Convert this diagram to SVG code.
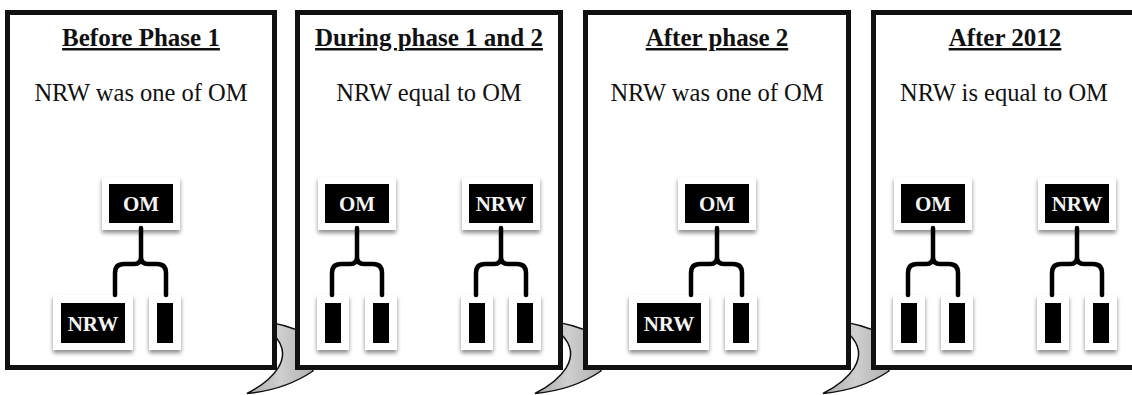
<svg xmlns="http://www.w3.org/2000/svg" width="1132" height="395" viewBox="0 0 1132 395">
<defs>
<filter id="sh" x="-30%" y="-30%" width="160%" height="170%">
<feDropShadow dx="0" dy="3" stdDeviation="2.2" flood-color="#000" flood-opacity="0.45"/>
</filter>
<linearGradient id="gr" x1="0" y1="0" x2="1" y2="0">
<stop offset="0" stop-color="#a9a9a9"/>
<stop offset="0.5" stop-color="#cfcfcf"/>
<stop offset="1" stop-color="#b0b0b0"/>
</linearGradient>
<path id="tail" d="M -35 321 Q -12 323 14 335 L 18 371 Q -10 390 -48 393.5 C -24 381 2 358 -22 334 Z"/>
</defs>
<style>
.panel{fill:#fff;stroke:#111;stroke-width:5}
.tail{fill:url(#gr);stroke:#111;stroke-width:1.5}
.title{font-family:"Liberation Serif","Times New Roman",serif;font-weight:bold;font-size:25px;text-anchor:middle;text-decoration:underline;fill:#111}
.sub{font-family:"Liberation Serif","Times New Roman",serif;font-size:24.5px;text-anchor:middle;fill:#111}
.wb{fill:#fff;filter:url(#sh)}
.bk{fill:#000}
.nt{font-family:"Liberation Serif","Times New Roman",serif;font-weight:bold;font-size:21px;text-anchor:middle;fill:#f4f4f4}
.br{fill:none;stroke:#000;stroke-width:4.5;stroke-linecap:round;stroke-linejoin:round}
</style>
<rect width="1132" height="395" fill="#fff"/>
<g id="tails">
<use href="#tail" class="tail" transform="translate(295,0)"/>
<use href="#tail" class="tail" transform="translate(583,0)"/>
<use href="#tail" class="tail" transform="translate(871,0)"/>
</g>
<g id="panel1">
<rect class="panel" x="7.5" y="12.5" width="267" height="355"/>
<text class="title" x="141" y="46">Before Phase 1</text>
<text class="sub" x="141" y="101">NRW was one of OM</text>
</g>
<g id="panel2">
<rect class="panel" x="297.5" y="12.5" width="263" height="355"/>
<text class="title" x="429" y="46">During phase 1 and 2</text>
<text class="sub" x="429" y="101">NRW equal to OM</text>
</g>
<g id="panel3">
<rect class="panel" x="585.5" y="12.5" width="263" height="355"/>
<text class="title" x="717" y="46">After phase 2</text>
<text class="sub" x="717" y="101">NRW was one of OM</text>
</g>
<g id="panel4">
<rect class="panel" x="873.5" y="12.5" width="263" height="355"/>
<text class="title" x="1005" y="46">After 2012</text>
<text class="sub" x="1004" y="101">NRW is equal to OM</text>
</g>
<!-- Panel 1 nodes -->
<g id="p1-om"><rect class="wb" x="102" y="177" width="78" height="53"/><rect class="bk" x="109" y="184" width="64" height="39"/><text class="nt" x="141" y="211">OM</text></g>
<g id="p1-nrw"><rect class="wb" x="53" y="295" width="80" height="55"/><rect class="bk" x="61" y="303" width="64" height="40"/><text class="nt" x="93" y="330.5">NRW</text></g>
<g id="p1-c2"><rect class="wb" x="149" y="295" width="32" height="55"/><rect class="bk" x="157" y="303" width="16" height="40"/></g>
<!-- Panel 2 nodes -->
<g id="p2-om"><rect class="wb" x="318" y="177" width="78" height="53"/><rect class="bk" x="325" y="184" width="64" height="39"/><text class="nt" x="357" y="211">OM</text></g>
<g id="p2-om-c1"><rect class="wb" x="317" y="295" width="32" height="55"/><rect class="bk" x="325" y="303" width="16" height="40"/></g>
<g id="p2-om-c2"><rect class="wb" x="365" y="295" width="32" height="55"/><rect class="bk" x="373" y="303" width="16" height="40"/></g>
<g id="p2-nrw"><rect class="wb" x="462" y="177" width="78" height="53"/><rect class="bk" x="469" y="184" width="64" height="39"/><text class="nt" x="501" y="211">NRW</text></g>
<g id="p2-nrw-c1"><rect class="wb" x="461" y="295" width="32" height="55"/><rect class="bk" x="469" y="303" width="16" height="40"/></g>
<g id="p2-nrw-c2"><rect class="wb" x="509" y="295" width="32" height="55"/><rect class="bk" x="517" y="303" width="16" height="40"/></g>
<!-- Panel 3 nodes -->
<g id="p3-om"><rect class="wb" x="678" y="177" width="78" height="53"/><rect class="bk" x="685" y="184" width="64" height="39"/><text class="nt" x="717" y="211">OM</text></g>
<g id="p3-nrw"><rect class="wb" x="629" y="295" width="80" height="55"/><rect class="bk" x="637" y="303" width="64" height="40"/><text class="nt" x="669" y="330.5">NRW</text></g>
<g id="p3-c2"><rect class="wb" x="725" y="295" width="32" height="55"/><rect class="bk" x="733" y="303" width="16" height="40"/></g>
<!-- Panel 4 nodes -->
<g id="p4-om"><rect class="wb" x="894" y="177" width="78" height="53"/><rect class="bk" x="901" y="184" width="64" height="39"/><text class="nt" x="933" y="211">OM</text></g>
<g id="p4-om-c1"><rect class="wb" x="893" y="295" width="32" height="55"/><rect class="bk" x="901" y="303" width="16" height="40"/></g>
<g id="p4-om-c2"><rect class="wb" x="941" y="295" width="32" height="55"/><rect class="bk" x="949" y="303" width="16" height="40"/></g>
<g id="p4-nrw"><rect class="wb" x="1038" y="177" width="78" height="53"/><rect class="bk" x="1045" y="184" width="64" height="39"/><text class="nt" x="1077" y="211">NRW</text></g>
<g id="p4-nrw-c1"><rect class="wb" x="1037" y="295" width="32" height="55"/><rect class="bk" x="1045" y="303" width="16" height="40"/></g>
<g id="p4-nrw-c2"><rect class="wb" x="1085" y="295" width="32" height="55"/><rect class="bk" x="1093" y="303" width="16" height="40"/></g>
<g id="connectors">
<path class="br" d="M141 228 V257 Q141 264 134 264 H124 Q115 264 115 273 V295 M141 257 Q141 264 148 264 H157 Q166 264 166 273 V295"/>
<path class="br" d="M357 228 V257 Q357 264 350 264 H341 Q332 264 332 273 V295 M357 257 Q357 264 364 264 H373 Q382 264 382 273 V295"/>
<path class="br" d="M501 228 V257 Q501 264 494 264 H485 Q476 264 476 273 V295 M501 257 Q501 264 508 264 H517 Q526 264 526 273 V295"/>
<path class="br" d="M717 228 V257 Q717 264 710 264 H700 Q691 264 691 273 V295 M717 257 Q717 264 724 264 H733 Q742 264 742 273 V295"/>
<path class="br" d="M933 228 V257 Q933 264 926 264 H917 Q908 264 908 273 V295 M933 257 Q933 264 940 264 H949 Q958 264 958 273 V295"/>
<path class="br" d="M1077 228 V257 Q1077 264 1070 264 H1061 Q1052 264 1052 273 V295 M1077 257 Q1077 264 1084 264 H1093 Q1102 264 1102 273 V295"/>
</g>
</svg>
